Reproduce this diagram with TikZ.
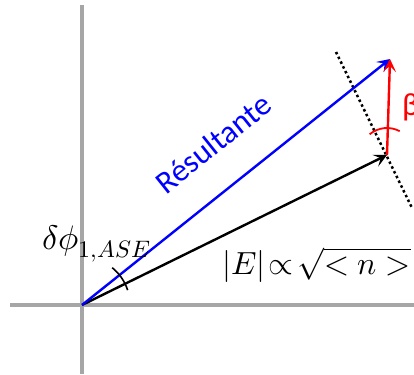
\documentclass[tikz,border=0pt]{standalone}
\usepackage{fontspec}
\usepackage{unicode-math}
\newfontfamily\carlito{Carlito}
\usetikzlibrary{arrows.meta}
\definecolor{axisgray}{HTML}{A6A6A6}
\definecolor{myblue}{HTML}{0000FF}
\definecolor{myred}{HTML}{FF0000}
\tikzset{
  axis/.style={draw=axisgray,line width=3.5pt},
  vec/.style={line width=2.4pt,-{Stealth[length=13pt,width=13pt,inset=6pt]}},
  lab/.style={inner sep=0pt,font=\fontsize{32}{34}\selectfont}
}
\begin{document}
\begin{tikzpicture}[x=1pt,y=-1pt]
\useasboundingbox (0,0) rectangle (414,374);
\coordinate (O) at (82,305);
\coordinate (ytop) at (82,5);
\coordinate (ybot) at (82,374);
\coordinate (xl) at (10,305);
\coordinate (xr) at (414,305);
\coordinate (E) at (387,155);
\coordinate (R) at (390,59);
\coordinate (d1) at (336,52);
\coordinate (d2) at (412,208);
\draw[axis] (ytop) -- (ybot);
\draw[axis] (xl) -- (xr);
\draw[line width=2.5pt,dash pattern=on 2.5pt off 2.8pt] (d1) -- (d2);
\draw[vec,black] (O) -- (E);
\draw[vec,myblue] (O) -- (R);
\draw[vec,myred] (E) -- (R);
\draw[line width=1.6pt,black] (O) ++(-18:48) arc[start angle=-18,end angle=-51,radius=48];
\draw[line width=1.8pt,myred] (E) ++(-130:27) arc[start angle=-130,end angle=-62,radius=27];
\node[lab,anchor=base west,font=\fontsize{34}{36}\selectfont] (dphi) at (42,249) {$\delta\phi_{1,ASE}$};
\node[lab,anchor=base west] (mag) at (222,274) {$|E|\!\propto\!\sqrt{<n>}$};
\node[inner sep=0pt,anchor=base west,text=myred,font=\carlito\fontsize{32}{34}\selectfont] (beta) at (402,116) {β};
\node[inner sep=0pt,text=myblue,rotate=38.6,anchor=base,font=\carlito\fontsize{32}{34}\selectfont] (res) at (220,152) {Résultante};
\end{tikzpicture}
\end{document}
